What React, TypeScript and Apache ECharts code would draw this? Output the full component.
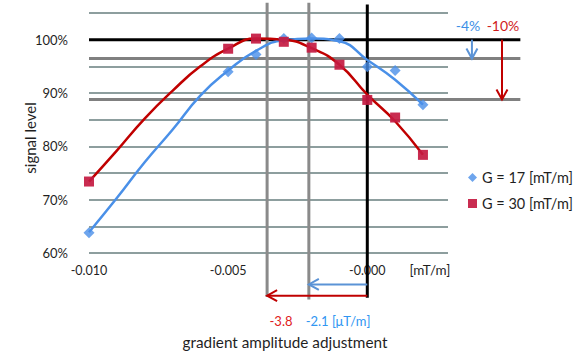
import React, { useEffect, useRef } from "react";
import * as echarts from "echarts";

// measured data (x in mT/m, y in % signal level)
const xValues = [-0.010, -0.005, -0.004, -0.003, -0.002, -0.001, 0.0, 0.001, 0.002];
const g17 = [63.8, 94.0, 97.2, 100.2, 100.3, 100.2, 94.9, 94.2, 87.8];
const g30 = [73.4, 98.3, 100.2, 99.6, 98.5, 95.3, 88.7, 85.4, 78.4];

// trend lines
const trendX = [-0.010, -0.009, -0.008, -0.007, -0.006, -0.005, -0.004, -0.003, -0.002, -0.001, 0.0, 0.001, 0.002];
const trend17 = [63.9, 70.3, 77.0, 83.1, 89.5, 94.2, 97.9, 99.9, 100.2, 99.7, 96.2, 92.5, 87.8];
const trend30 = [73.4, 79.2, 85.2, 90.4, 95.0, 98.3, 100.2, 100.0, 98.4, 95.3, 89.7, 84.7, 78.4];

const seriesNames = ["G = 17 [mT/m]", "G = 30 [mT/m]"];

// axes
const xMin = -0.010;
const xMax = 0.0029;
const xTickValues = [-0.010, -0.005, 0.0];
const xTickLabels = ["-0.010", "-0.005", "-0.000"];
const yMin = 60;
const yMax = 105;
const yLabelValues = [60, 70, 80, 90, 100];

// reference levels and shifts
const refLevels = [100, 96.45, 88.8]; // optimum, G=17 drop, G=30 drop
const shiftX = [0.0, -0.0021, -0.0036]; // zero, G=17 optimum, G=30 optimum
const lineLeftX = -0.010;
const lineRightX = 0.0055;
const vLineTop = [106.6, 106.9, 106.9];
const vLineBottom = [51.6, 51.3, 51.75];
const arrowY = [54.1, 52.0]; // G=17, G=30 horizontal arrows
const dropArrowX = [0.00376, 0.00484]; // G=17, G=30 vertical arrows

// segments [x1, y1, x2, y2]
const refSegments = [
  [lineLeftX, refLevels[0], lineRightX, refLevels[0]],
  [lineLeftX, refLevels[1], lineRightX, refLevels[1]],
  [lineLeftX, refLevels[2], lineRightX, refLevels[2]],
  [shiftX[2], vLineTop[2], shiftX[2], vLineBottom[2]],
  [shiftX[1], vLineTop[1], shiftX[1], vLineBottom[1]],
  [shiftX[0], vLineTop[0], shiftX[0], vLineBottom[0]],
  [shiftX[0], arrowY[1], shiftX[2], arrowY[1]],
  [shiftX[0], arrowY[0], shiftX[1], arrowY[0]],
  [dropArrowX[0], refLevels[0], dropArrowX[0], refLevels[1]],
  [dropArrowX[1], refLevels[0], dropArrowX[1], refLevels[2]],
];

const annotationTexts = ["-4%", "-10%", "-3.8", "-2.1 [μT/m]", "[mT/m]"];
const xAxisTitle = "gradient amplitude adjustment";
const yAxisTitle = "signal level";

const BLUE = "#4a90e8";
const RED = "#c00000";
const ARROW_BLUE = "#5b93d6";

const segmentStyles = [
  { color: "#000000", width: 3, arrow: false },
  { color: "#808080", width: 3, arrow: false },
  { color: "#808080", width: 3, arrow: false },
  { color: "#8a8a8a", width: 3, arrow: false },
  { color: "#8a8a8a", width: 3, arrow: false },
  { color: "#000000", width: 3, arrow: false },
  { color: RED, width: 2, arrow: true },
  { color: ARROW_BLUE, width: 2, arrow: true },
  { color: ARROW_BLUE, width: 2, arrow: true },
  { color: RED, width: 2, arrow: true },
];

export default function App() {
  const ref = useRef<HTMLDivElement>(null);
  useEffect(() => {
    if (!ref.current) return;
    const chart = echarts.init(ref.current, undefined, { renderer: "svg" });

    const option: any = {
      animation: false,
      textStyle: { fontFamily: "Lato" },
      grid: { left: 89, right: 138, top: 13, height: 240 },
      legend: {
        orient: "vertical",
        left: 463,
        top: 165,
        itemWidth: 9,
        itemHeight: 9,
        itemGap: 11,
        data: seriesNames,
        textStyle: { fontSize: 14.5, color: "#1f1f1f", fontFamily: "Lato" },
      },
      xAxis: {
        type: "value",
        min: xMin,
        max: xMax,
        interval: 0.005,
        axisLine: { show: false },
        axisTick: { show: false },
        splitLine: { show: false },
        axisLabel: {
          fontSize: 12.5,
          color: "#1f1f1f",
          margin: 11,
          showMaxLabel: false,
          formatter: (v: number) => {
            const i = xTickValues.findIndex((t) => Math.abs(t - v) < 1e-9);
            return i >= 0 ? xTickLabels[i] : "";
          },
        },
      },
      yAxis: {
        type: "value",
        min: yMin,
        max: yMax,
        interval: 5,
        axisLine: { show: false },
        axisTick: { show: false },
        splitLine: { lineStyle: { color: "#8d9e9e", width: 2 } },
        axisLabel: {
          fontSize: 13,
          color: "#1f1f1f",
          margin: 21,
          formatter: (v: number) => (yLabelValues.some((t) => Math.abs(t - v) < 1e-9) ? `${v}%` : ""),
        },
      },
      series: [
        {
          type: "custom",
          name: "reference",
          silent: true,
          clip: false,
          z: 1,
          encode: { x: [0, 2], y: [1, 3] },
          data: refSegments,
          renderItem: (params: any, api: any) => {
            const i = params.dataIndex;
            const st = segmentStyles[i];
            const p1 = api.coord([api.value(0), api.value(1)]);
            const p2 = api.coord([api.value(2), api.value(3)]);
            const children: any[] = [
              {
                type: "line",
                shape: { x1: p1[0], y1: p1[1], x2: p2[0], y2: p2[1] },
                style: { stroke: st.color, lineWidth: st.width },
              },
            ];
            if (st.arrow) {
              const dx = p2[0] - p1[0];
              const dy = p2[1] - p1[1];
              const len = Math.hypot(dx, dy) || 1;
              const ux = dx / len;
              const uy = dy / len;
              const L = 10;
              const W = 5.5;
              const bx = p2[0] - ux * L;
              const by = p2[1] - uy * L;
              children.push({
                type: "polyline",
                shape: {
                  points: [
                    [bx - uy * W, by + ux * W],
                    [p2[0], p2[1]],
                    [bx + uy * W, by - ux * W],
                  ],
                },
                style: { stroke: st.color, lineWidth: 2, fill: "none" },
              });
            }
            return { type: "group", children };
          },
        },
        {
          type: "line",
          name: "trend17",
          data: trendX.map((x, i) => [x, trend17[i]]),
          smooth: true,
          symbol: "none",
          lineStyle: { color: BLUE, width: 2.5 },
          z: 2,
        },
        {
          type: "line",
          name: "trend30",
          data: trendX.map((x, i) => [x, trend30[i]]),
          smooth: true,
          symbol: "none",
          lineStyle: { color: RED, width: 2.5 },
          z: 2,
        },
        {
          type: "scatter",
          name: seriesNames[0],
          data: xValues.map((x, i) => [x, g17[i]]),
          symbol: "diamond",
          symbolSize: 11,
          itemStyle: { color: "#4a8fe8" },
          z: 3,
        },
        {
          type: "scatter",
          name: seriesNames[1],
          data: xValues.map((x, i) => [x, g30[i]]),
          symbol: "rect",
          symbolSize: 10,
          itemStyle: { color: "#c41a41", opacity: 0.92 },
          z: 3,
        },
      ],
      graphic: [
        { type: "text", x: 468, y: 25, style: { text: annotationTexts[0], fill: "#3d8fe6", font: "14px Lato", align: "center", verticalAlign: "middle" } },
        { type: "text", x: 503, y: 25, style: { text: annotationTexts[1], fill: "#d01c1c", font: "14px Lato", align: "center", verticalAlign: "middle" } },
        { type: "text", x: 281, y: 321, style: { text: annotationTexts[2], fill: "#e02020", font: "13px Lato", align: "center", verticalAlign: "middle" } },
        { type: "text", x: 338, y: 321, style: { text: annotationTexts[3], fill: "#2f96f2", font: "13px Lato", align: "center", verticalAlign: "middle" } },
        { type: "text", x: 430, y: 270, style: { text: annotationTexts[4], fill: "#1f1f1f", font: "13.5px Lato", align: "center", verticalAlign: "middle" } },
        { type: "text", x: 285, y: 342, style: { text: xAxisTitle, fill: "#1f1f1f", font: "15.3px Lato", align: "center", verticalAlign: "middle" } },
        { type: "text", x: 30, y: 138, rotation: Math.PI / 2, style: { text: yAxisTitle, fill: "#1f1f1f", font: "15px Lato", align: "center", verticalAlign: "middle" } },
      ],
    };
    chart.setOption(option);
    return () => chart.dispose();
  }, []);
  return <div ref={ref} style={{ position: "absolute", left: 0, top: 0, width: 586, height: 352 }} />;
}
